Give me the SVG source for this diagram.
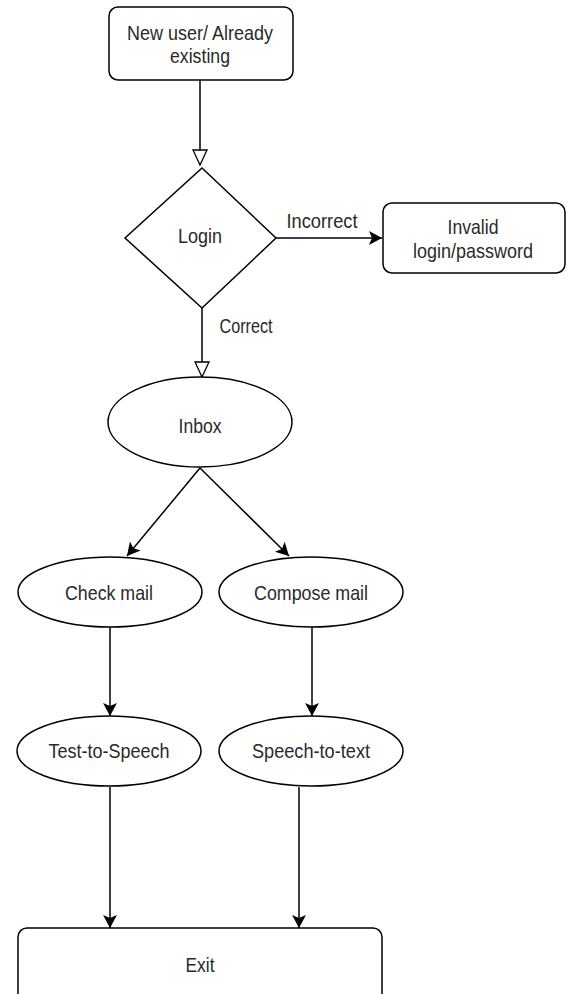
<svg xmlns="http://www.w3.org/2000/svg" width="570" height="994" viewBox="0 0 570 994">
<style>
.shape{fill:#fff;stroke:#000;stroke-width:1.5}
.edge{fill:none;stroke:#000;stroke-width:1.5}
text{font-family:"Liberation Sans",Arial,sans-serif;font-size:21px;fill:#2a2a2a;text-anchor:middle}
</style>
<defs>
<marker id="open" markerWidth="18" markerHeight="18" refX="16" refY="8" orient="auto" markerUnits="userSpaceOnUse">
<path d="M1,1 L16,8 L1,15 Z" fill="#fff" stroke="#000" stroke-width="1.3"/>
</marker>
<marker id="block" markerWidth="16" markerHeight="16" refX="13" refY="7" orient="auto" markerUnits="userSpaceOnUse">
<path d="M0,0 L13,7 L0,14 L3,7 Z" fill="#000"/>
</marker>
</defs>
<rect width="570" height="994" fill="#fff"/>
<g id="connectors">
<path class="edge" d="M200,80 L200,165" marker-end="url(#open)"/>
<path class="edge" d="M276,238 L382,238" marker-end="url(#block)"/>
<path class="edge" d="M202,308 L202,377" marker-end="url(#open)"/>
<path class="edge" d="M200,468 L127,556" marker-end="url(#block)"/>
<path class="edge" d="M200,468 L289,556" marker-end="url(#block)"/>
<path class="edge" d="M110,627 L110,716" marker-end="url(#block)"/>
<path class="edge" d="M312,627 L312,716" marker-end="url(#block)"/>
<path class="edge" d="M110,787 L110,928" marker-end="url(#block)"/>
<path class="edge" d="M299,787 L299,928" marker-end="url(#block)"/>
<text x="322" y="228" textLength="71" lengthAdjust="spacingAndGlyphs">Incorrect</text>
<text x="246" y="333" textLength="53" lengthAdjust="spacingAndGlyphs">Correct</text>
</g>
<g id="start">
<rect class="shape" x="109" y="7" width="184" height="73" rx="9"/>
<text x="200" y="40" textLength="146" lengthAdjust="spacingAndGlyphs">New user/ Already</text>
<text x="200" y="63" textLength="60" lengthAdjust="spacingAndGlyphs">existing</text>
</g>
<g id="login">
<path class="shape" d="M202,168 L276,238 L202,308 L125,238 Z"/>
<text x="200" y="243" textLength="44" lengthAdjust="spacingAndGlyphs">Login</text>
</g>
<g id="invalid">
<rect class="shape" x="383" y="203" width="182" height="70" rx="9"/>
<text x="473" y="234" textLength="51" lengthAdjust="spacingAndGlyphs">Invalid</text>
<text x="473" y="258" textLength="120" lengthAdjust="spacingAndGlyphs">login/password</text>
</g>
<g id="inbox">
<ellipse class="shape" cx="200" cy="422" rx="92" ry="45"/>
<text x="200" y="433" textLength="43" lengthAdjust="spacingAndGlyphs">Inbox</text>
</g>
<g id="check">
<ellipse class="shape" cx="110" cy="592" rx="92" ry="35"/>
<text x="109" y="600" textLength="88" lengthAdjust="spacingAndGlyphs">Check mail</text>
</g>
<g id="compose">
<ellipse class="shape" cx="311" cy="592" rx="92" ry="35"/>
<text x="311" y="600" textLength="114" lengthAdjust="spacingAndGlyphs">Compose mail</text>
</g>
<g id="tts">
<ellipse class="shape" cx="109" cy="751" rx="92" ry="35"/>
<text x="109" y="758" textLength="121" lengthAdjust="spacingAndGlyphs">Test-to-Speech</text>
</g>
<g id="stt">
<ellipse class="shape" cx="311" cy="751" rx="92" ry="35"/>
<text x="311" y="758" textLength="118" lengthAdjust="spacingAndGlyphs">Speech-to-text</text>
</g>
<g id="exit">
<rect class="shape" x="18" y="928" width="364" height="80" rx="9"/>
<text x="200" y="972" textLength="29" lengthAdjust="spacingAndGlyphs">Exit</text>
</g>
</svg>
